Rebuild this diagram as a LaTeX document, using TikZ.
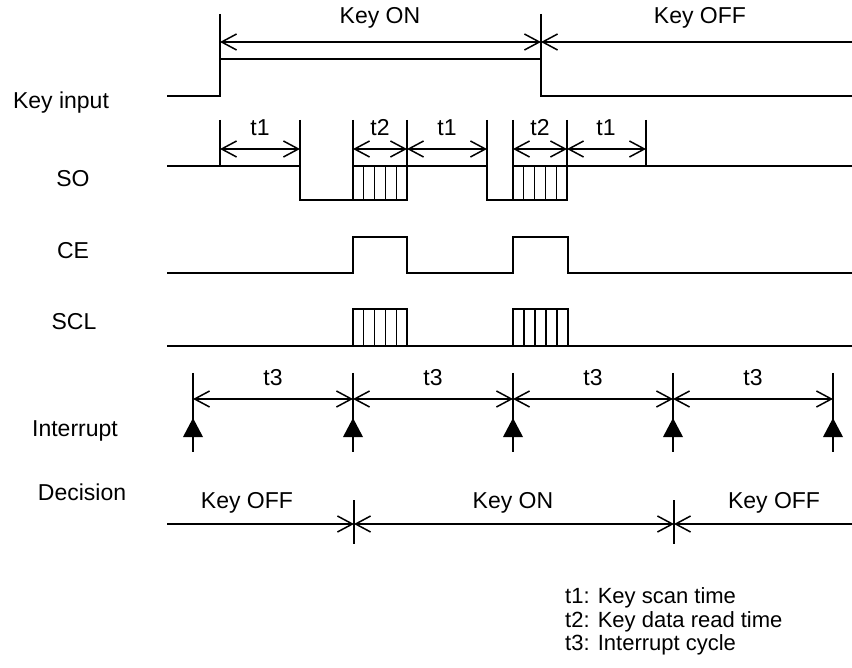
\documentclass[tikz,border=0pt]{standalone}
\usepackage{fontspec}
\setmainfont{Liberation Sans}
\usetikzlibrary{arrows.meta}
\begin{document}
\begin{tikzpicture}[x=1pt,y=-1pt,
  >={Straight Barb[length=15pt,width=16pt]},
  wave/.style={line width=1.8pt, line join=miter, line cap=rect},
  dimline/.style={line width=1.5pt},
  tickline/.style={line width=1.5pt},
  hatch/.style={line width=1.2pt},
  lbl/.style={font=\fontsize{23}{27}\selectfont, inner sep=0pt},
  leg/.style={font=\fontsize{22}{26}\selectfont, inner sep=0pt, anchor=west},
  trig/.style={fill=black, draw=none}
]
\useasboundingbox (0,0) rectangle (852,668);

% ---------- row labels
\node[lbl] (lkey) at (61,103) {Key input};
\node[lbl] (lso) at (73,179) {SO};
\node[lbl] (lce) at (73,251) {CE};
\node[lbl] (lscl) at (74,322) {SCL};
\node[lbl] (lint) at (75,431) {Interrupt};
\node[lbl] (ldec) at (82,492) {Decision};

% ---------- Key input
\draw[wave] (168,96) -- (220,96) -- (220,59) -- (541,59) -- (541,96) -- (852,96);
\coordinate (kt1) at (220,14); \coordinate (kb1) at (220,59);
\coordinate (kt2) at (541,14); \coordinate (kb2) at (541,59);
\draw[tickline] (kt1) -- (kb1);
\draw[tickline] (kt2) -- (kb2);
\coordinate (ka) at (220,42); \coordinate (kb) at (541,42); \coordinate (kc) at (852,42);
\draw[dimline,<->] (ka) -- (kb);
\draw[dimline,<-] (kb) -- (kc);
\node[lbl] (kon) at (380,18) {Key ON};
\node[lbl] (koff) at (700,18) {Key OFF};

% ---------- SO
\draw[wave] (168,166) -- (300,166) -- (300,200) -- (407,200) -- (407,166) -- (487,166) -- (487,200) -- (567,200) -- (567,166) -- (852,166);
\draw[wave] (353,200) -- (353,166) -- (407,166);
\draw[wave] (513,200) -- (513,166) -- (567,166);
\foreach \i in {1,...,4} {
  \draw[hatch] (353+\i*10.8,166) -- (353+\i*10.8,200);
  \draw[hatch] (513+\i*10.8,166) -- (513+\i*10.8,200);
}
\foreach \x/\n in {220/s1,300/s2,353/s3,407/s4,487/s5,513/s6,567/s7,646/s8} {
  \coordinate (\n t) at (\x,120);
  \coordinate (\n b) at (\x,166);
  \coordinate (\n) at (\x,149);
  \draw[tickline] (\n t) -- (\n b);
}
\draw[dimline,<->] (s1) -- (s2);
\draw[dimline,<->] (s3) -- (s4);
\draw[dimline,<->] (s4) -- (s5);
\draw[dimline,<->] (s6) -- (s7);
\draw[dimline,<->] (s7) -- (s8);
\node[lbl] (ta) at (260,128) {t1};
\node[lbl] (tb) at (380,128) {t2};
\node[lbl] (tc) at (447,128) {t1};
\node[lbl] (td) at (540,128) {t2};
\node[lbl] (te) at (606,128) {t1};

% ---------- CE
\draw[wave] (168,273) -- (353,273) -- (353,237) -- (407,237) -- (407,273) -- (513,273) -- (513,237) -- (568,237) -- (568,273) -- (852,273);

% ---------- SCL
\draw[wave] (168,346) -- (852,346);
\draw[wave] (353,346) rectangle (407,309);
\draw[wave] (513,346) rectangle (568,309);
\foreach \i in {1,...,4} {
  \draw[hatch] (353+\i*10.8,309) -- (353+\i*10.8,346);
  \draw[hatch] (513+\i*11,309) -- (513+\i*11,346);
}

% ---------- Interrupt
\foreach \x/\n in {193/i1,353/i2,513/i3,673/i4,833/i5} {
  \coordinate (\n t) at (\x,373);
  \coordinate (\n b) at (\x,452);
  \coordinate (\n) at (\x,399);
  \draw[tickline] (\n t) -- (\n b);
  \fill[trig] (\x,418) -- (\x-10,437) -- (\x+10,437) -- cycle;
}
\draw[dimline,<->] (i1) -- (i2);
\draw[dimline,<->] (i2) -- (i3);
\draw[dimline,<->] (i3) -- (i4);
\draw[dimline,<->] (i4) -- (i5);
\node[lbl] (t3a) at (273,378) {t3};
\node[lbl] (t3b) at (433,378) {t3};
\node[lbl] (t3c) at (593,378) {t3};
\node[lbl] (t3d) at (753,378) {t3};

% ---------- Decision
\coordinate (d0) at (167,524);
\coordinate (d1) at (354,524);
\coordinate (d2) at (674,524);
\coordinate (d3) at (852,524);
\draw[tickline] (354,500) -- (354,544);
\draw[tickline] (674,500) -- (674,544);
\draw[dimline,->] (d0) -- (d1);
\draw[dimline,<->] (d1) -- (d2);
\draw[dimline,<-] (d2) -- (d3);
\node[lbl] (da) at (247,503) {Key OFF};
\node[lbl] (db) at (513,503) {Key ON};
\node[lbl] (dc) at (774,503) {Key OFF};

% ---------- Legend
\node[leg] (g1) at (565,598) {t1: Key scan time};
\node[leg] (g2) at (565,622) {t2: Key data read time};
\node[leg] (g3) at (565,645) {t3: Interrupt cycle};
\end{tikzpicture}
\end{document}
